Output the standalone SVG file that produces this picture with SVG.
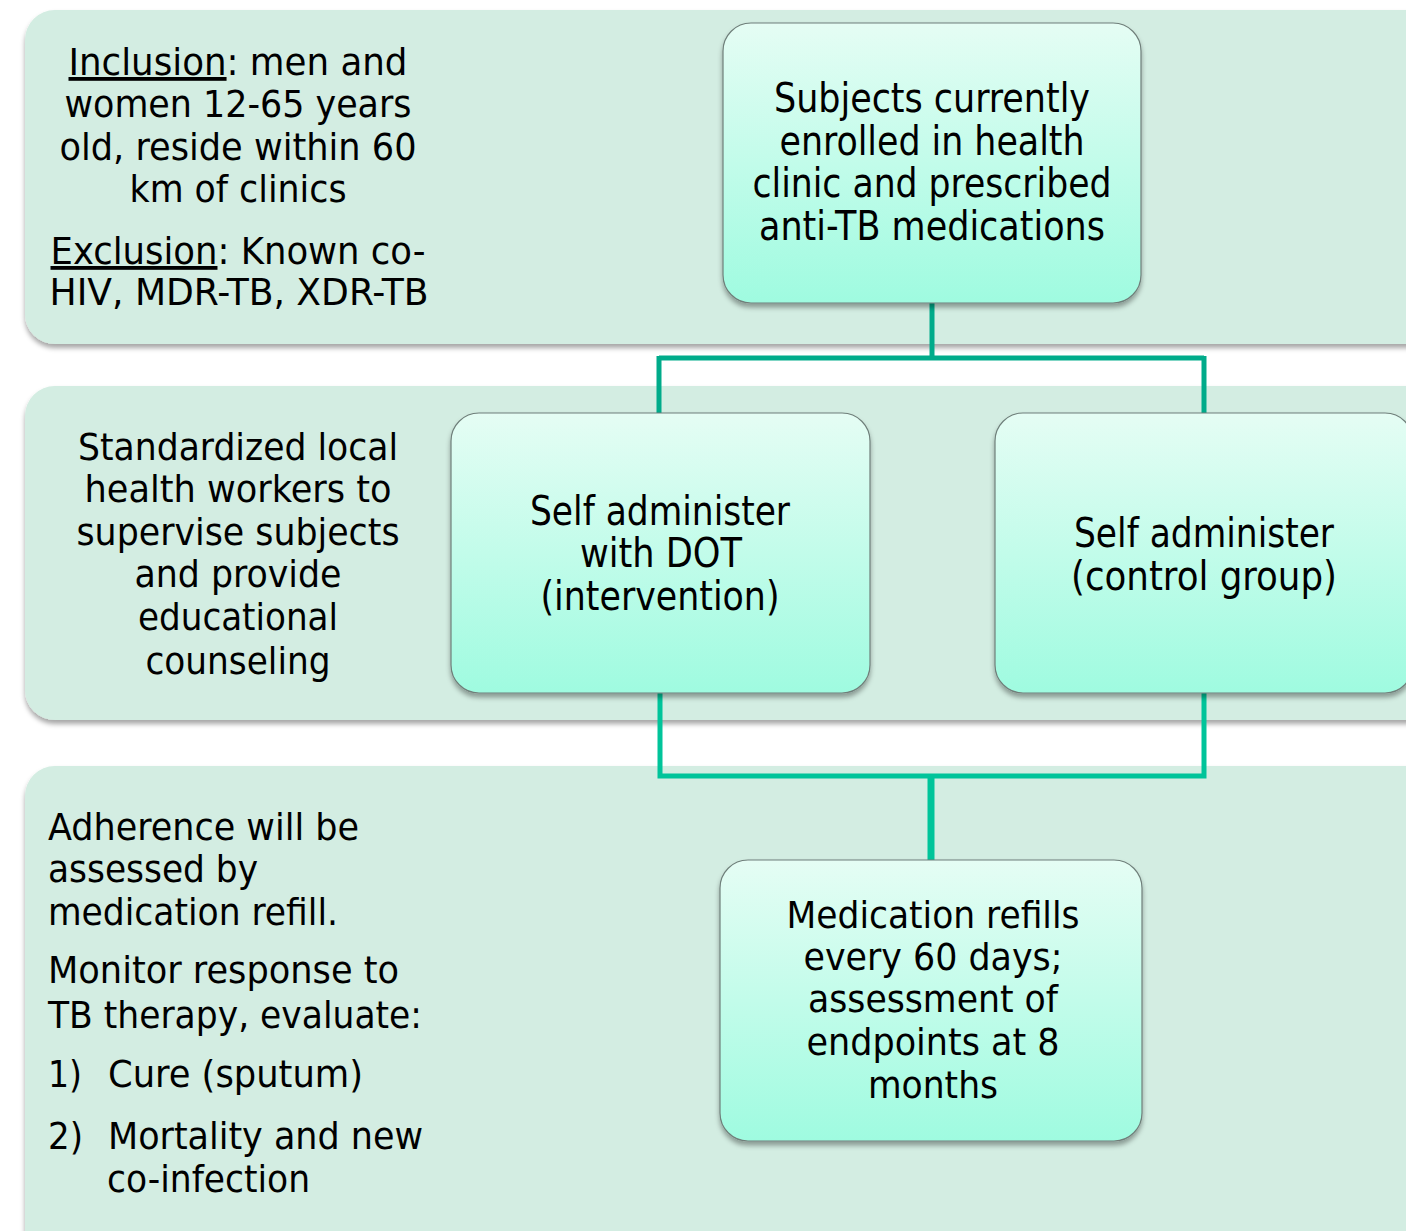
<svg xmlns="http://www.w3.org/2000/svg" width="1406" height="1231" viewBox="0 0 1406 1231">
<defs>
<linearGradient id="ng" x1="0" y1="0" x2="0" y2="1">
<stop offset="0" stop-color="#e5fdf4"/>
<stop offset="1" stop-color="#9ffbe0"/>
</linearGradient>
<filter id="sh" x="-5%" y="-5%" width="110%" height="115%">
<feDropShadow dx="0" dy="4" stdDeviation="2.5" flood-color="#000" flood-opacity="0.35"/>
</filter>
</defs>
<style>
.band{fill:#d3ede2;filter:url(#sh)}
.node{fill:url(#ng);stroke:#6f7f7a;stroke-width:1.2;filter:url(#sh)}
text{font-family:"DejaVu Sans Condensed","DejaVu Sans",sans-serif;font-size:38px;fill:#000}
.c{text-anchor:middle}
.n{font-size:40px}
.ct{fill:none;stroke:#00ab8a;stroke-width:5}
.cb{fill:none;stroke:#00c49a;stroke-width:5}
.cm{fill:none;stroke:#00c49a;stroke-width:7}
</style>
<g id="band1">
<rect class="band" x="25" y="10" width="1420" height="334" rx="30"/>
<text class="c" x="238" y="75" textLength="339" lengthAdjust="spacingAndGlyphs"><tspan text-decoration="underline">Inclusion</tspan>: men and</text>
<text class="c" x="238" y="117" textLength="347" lengthAdjust="spacingAndGlyphs">women 12-65 years</text>
<text class="c" x="238" y="160" textLength="357" lengthAdjust="spacingAndGlyphs">old, reside within 60</text>
<text class="c" x="238" y="202" textLength="217" lengthAdjust="spacingAndGlyphs">km of clinics</text>
<text class="c" x="238" y="264" textLength="375" lengthAdjust="spacingAndGlyphs"><tspan text-decoration="underline">Exclusion</tspan>: Known co-</text>
<text class="c" x="239" y="305" textLength="379" lengthAdjust="spacingAndGlyphs">HIV, MDR-TB, XDR-TB</text>
</g>
<g id="band2">
<rect class="band" x="25" y="386" width="1420" height="334" rx="30"/>
<text class="c" x="238" y="460" textLength="320" lengthAdjust="spacingAndGlyphs">Standardized local</text>
<text class="c" x="238" y="502" textLength="307" lengthAdjust="spacingAndGlyphs">health workers to</text>
<text class="c" x="238" y="545" textLength="323" lengthAdjust="spacingAndGlyphs">supervise subjects</text>
<text class="c" x="238" y="587" textLength="207" lengthAdjust="spacingAndGlyphs">and provide</text>
<text class="c" x="238" y="630" textLength="200" lengthAdjust="spacingAndGlyphs">educational</text>
<text class="c" x="238" y="674" textLength="185" lengthAdjust="spacingAndGlyphs">counseling</text>
</g>
<g id="band3">
<rect class="band" x="25" y="766" width="1420" height="520" rx="30"/>
<text x="48" y="840" textLength="311" lengthAdjust="spacingAndGlyphs">Adherence will be</text>
<text x="48" y="882" textLength="210" lengthAdjust="spacingAndGlyphs">assessed by</text>
<text x="48" y="925" textLength="290" lengthAdjust="spacingAndGlyphs">medication refill.</text>
<text x="48" y="983" textLength="351" lengthAdjust="spacingAndGlyphs">Monitor response to</text>
<text x="48" y="1028" textLength="374" lengthAdjust="spacingAndGlyphs">TB therapy, evaluate:</text>
<text x="48" y="1087" textLength="34" lengthAdjust="spacingAndGlyphs">1)</text>
<text x="108" y="1087" textLength="255" lengthAdjust="spacingAndGlyphs">Cure (sputum)</text>
<text x="48" y="1149" textLength="35" lengthAdjust="spacingAndGlyphs">2)</text>
<text x="108" y="1149" textLength="315" lengthAdjust="spacingAndGlyphs">Mortality and new</text>
<text x="107" y="1192" textLength="203" lengthAdjust="spacingAndGlyphs">co-infection</text>
</g>
<g id="connectors">
<path class="ct" d="M932 303 V358 M659 358 H1204 M659 356 V413 M1204 356 V413"/>
<path class="cb" d="M660 693 V776 H1204 V693"/>
<path class="cm" d="M931 776 V860"/>
</g>
<g id="node1">
<rect class="node" x="723" y="23" width="418" height="280" rx="28"/>
<text class="c n" x="932" y="112" textLength="316" lengthAdjust="spacingAndGlyphs">Subjects currently</text>
<text class="c n" x="932" y="155" textLength="305" lengthAdjust="spacingAndGlyphs">enrolled in health</text>
<text class="c n" x="932" y="197" textLength="359" lengthAdjust="spacingAndGlyphs">clinic and prescribed</text>
<text class="c n" x="932" y="240" textLength="346" lengthAdjust="spacingAndGlyphs">anti-TB medications</text>
</g>
<g id="node2">
<rect class="node" x="451" y="413" width="419" height="280" rx="28"/>
<text class="c n" x="660" y="525" textLength="260" lengthAdjust="spacingAndGlyphs">Self administer</text>
<text class="c n" x="661" y="567" textLength="162" lengthAdjust="spacingAndGlyphs">with DOT</text>
<text class="c n" x="660" y="610" textLength="239" lengthAdjust="spacingAndGlyphs">(intervention)</text>
</g>
<g id="node3">
<rect class="node" x="995" y="413" width="418" height="280" rx="28"/>
<text class="c n" x="1204" y="547" textLength="260" lengthAdjust="spacingAndGlyphs">Self administer</text>
<text class="c n" x="1204" y="590" textLength="266" lengthAdjust="spacingAndGlyphs">(control group)</text>
</g>
<g id="node4">
<rect class="node" x="720" y="860" width="422" height="281" rx="28"/>
<text class="c" x="933" y="928" textLength="293" lengthAdjust="spacingAndGlyphs">Medication refills</text>
<text class="c" x="933" y="970" textLength="259" lengthAdjust="spacingAndGlyphs">every 60 days;</text>
<text class="c" x="933" y="1012" textLength="250" lengthAdjust="spacingAndGlyphs">assessment of</text>
<text class="c" x="933" y="1055" textLength="253" lengthAdjust="spacingAndGlyphs">endpoints at 8</text>
<text class="c" x="933" y="1098" textLength="130" lengthAdjust="spacingAndGlyphs">months</text>
</g>
</svg>
